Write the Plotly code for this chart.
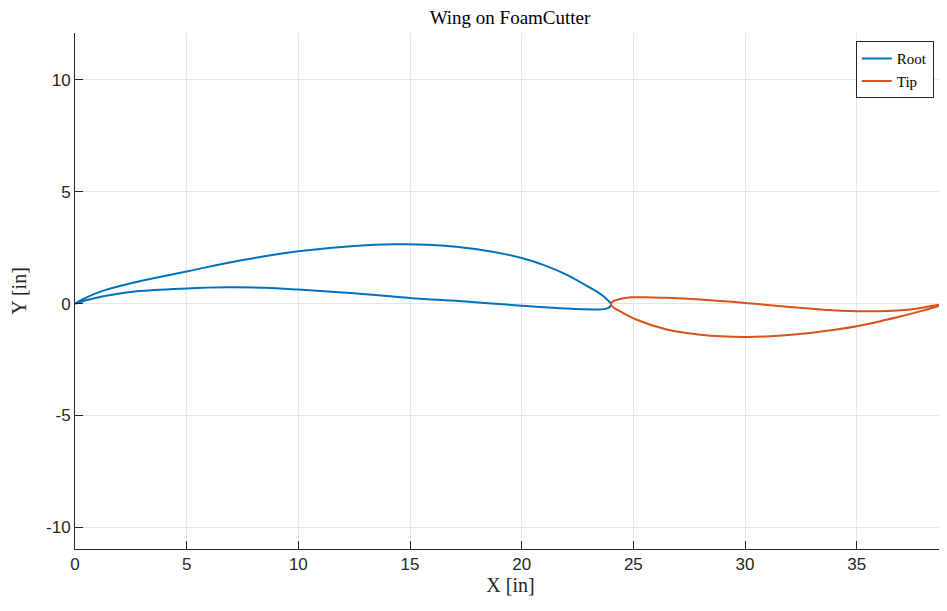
import plotly.graph_objects as go

# Root airfoil contour (x, y in inches): trailing edge -> upper -> nose -> lower -> trailing edge
root_x = [0.0, 0.5, 1.27, 2.76, 5.0, 7.5, 10.0, 12.5, 14.3, 16.0, 18.0, 20.0, 21.0, 22.0, 23.0, 23.5, 23.7, 23.87,
          23.96, 24.0, 23.97, 23.88, 23.7, 23.3, 22.0, 20.0, 17.5, 15.0, 12.5, 10.0, 8.5, 6.8, 5.0, 2.76, 1.27, 0.5, 0.0]
root_y = [0.0, 0.27, 0.58, 0.97, 1.44, 1.95, 2.34, 2.58, 2.65, 2.62, 2.43, 2.04, 1.72, 1.3, 0.75, 0.45, 0.3, 0.14,
          0.05, -0.03, -0.11, -0.19, -0.245, -0.26, -0.22, -0.09, 0.09, 0.25, 0.46, 0.63, 0.71, 0.73, 0.68, 0.55, 0.33, 0.15, 0.0]

# Tip airfoil contour
tip_x = [39.0, 38.0, 37.0, 36.0, 35.0, 33.5, 32.0, 30.0, 28.0, 26.5, 25.5, 24.9, 24.4, 24.15,
         24.03, 24.0, 24.05, 24.15, 24.4, 25.1, 26.5, 28.0, 30.0, 31.5, 33.0, 35.0, 37.0, 38.0, 39.0]
tip_y = [0.0, -0.17, -0.3, -0.34, -0.34, -0.27, -0.15, 0.03, 0.18, 0.26, 0.29, 0.28, 0.21, 0.13,
         0.05, -0.03, -0.12, -0.2, -0.34, -0.7, -1.16, -1.39, -1.49, -1.44, -1.3, -1.01, -0.56, -0.3, 0.0]

series_names = ["Root", "Tip"]
x_ticks = [0, 5, 10, 15, 20, 25, 30, 35]
y_ticks = [-10, -5, 0, 5, 10]

serif = "Liberation Serif, DejaVu Serif, serif"
sans = "Liberation Sans, Arial, sans-serif"
axis_col = "#262626"

# the page body adds an 8px offset, so the figure is made 8px smaller to avoid scrollbars
W, H = 939, 603
fig = go.Figure()
fig.add_trace(go.Scatter(x=root_x, y=root_y, mode="lines", name=series_names[0],
                         line=dict(color="#0072BD", width=2, shape="spline", smoothing=1.0)))
fig.add_trace(go.Scatter(x=tip_x, y=tip_y, mode="lines", name=series_names[1],
                         line=dict(color="#D95319", width=2, shape="spline", smoothing=1.0)))

fig.update_layout(
    width=W, height=H,
    margin=dict(l=67, r=1, t=25, b=62, autoexpand=False),
    plot_bgcolor="white", paper_bgcolor="white",
    title=dict(text="Wing on FoamCutter", x=502 / W, xanchor="center",
               y=1 - 9 / H, yanchor="middle",
               font=dict(family=serif, size=19, color="black")),
    showlegend=True,
    legend=dict(x=0.986, y=0.984, xanchor="right", yanchor="top",
                bgcolor="white", bordercolor=axis_col, borderwidth=1,
                font=dict(family=serif, size=15, color="black"),
                itemwidth=30, tracegroupgap=0),
    xaxis=dict(range=[0, 39], tickvals=x_ticks, ticktext=[str(v) for v in x_ticks],
               ticks="inside", ticklen=8, tickcolor=axis_col, automargin=False,
               showline=True, linecolor=axis_col, linewidth=1, mirror=False,
               showgrid=True, gridcolor="#e6e6e6", gridwidth=1, zeroline=False,
               tickfont=dict(family=sans, size=17, color=axis_col),
               title=dict(text="X [in]", font=dict(family=serif, size=20, color=axis_col), standoff=3)),
    yaxis=dict(range=[-10.97, 12.1], tickvals=y_ticks, ticktext=[str(v) for v in y_ticks],
               ticks="inside", ticklen=8, tickcolor=axis_col, automargin=False,
               showline=True, linecolor=axis_col, linewidth=1, mirror=False,
               showgrid=True, gridcolor="#e6e6e6", gridwidth=1, zeroline=False,
               tickfont=dict(family=sans, size=17, color=axis_col),
               title=dict(text="Y [in]", font=dict(family=serif, size=20, color=axis_col), standoff=19)),
)

fig.write_html("out.html")
